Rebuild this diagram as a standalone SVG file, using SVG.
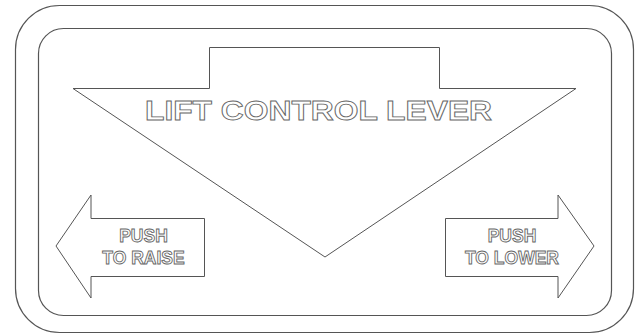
<svg xmlns="http://www.w3.org/2000/svg" width="638" height="336" viewBox="0 0 638 336">
<style>
.ln{fill:none;stroke:#555;stroke-width:1.2}
.sh{fill:#fff;stroke:#555;stroke-width:1}
.tx{font-family:"Liberation Sans",Arial,sans-serif;font-weight:bold;fill:#fff;stroke:#666;stroke-width:0.9;text-anchor:middle}
</style>
<rect width="638" height="336" fill="#fff"/>
<g id="outer-frame"><rect class="ln" x="15.5" y="5.5" width="618" height="327" rx="44" ry="44"/></g>
<g id="inner-frame"><rect class="ln" x="38.5" y="28.5" width="573" height="287" rx="25" ry="25"/></g>
<g id="lift-arrow">
<polygon class="sh" points="209.5,47.5 439.5,47.5 439.5,88.5 576,88.5 325,257 73,88.5 209.5,88.5"/>
<text class="tx" x="318.5" y="120" font-size="28" textLength="347" lengthAdjust="spacingAndGlyphs">LIFT CONTROL LEVER</text>
</g>
<g id="raise-arrow">
<polygon class="sh" points="56,246 91,195 91,218.5 204.5,218.5 204.5,276.5 91,276.5 91,298"/>
<text class="tx" x="143.5" y="242" font-size="17.5">PUSH</text>
<text class="tx" x="143.5" y="264" font-size="17.5">TO RAISE</text>
</g>
<g id="lower-arrow">
<polygon class="sh" points="594,246 558,195 558,218.5 445.5,218.5 445.5,276.5 558,276.5 558,298"/>
<text class="tx" x="512" y="242" font-size="17.5">PUSH</text>
<text class="tx" x="512" y="264" font-size="17.5">TO LOWER</text>
</g>
<g id="connectors"/>
</svg>
